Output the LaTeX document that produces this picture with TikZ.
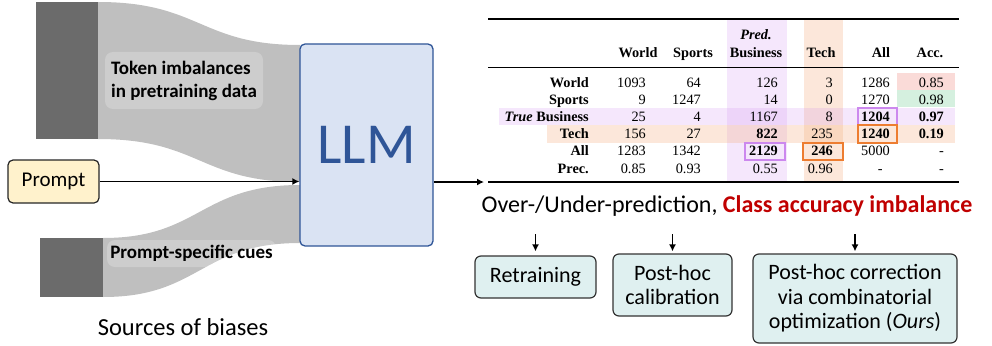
\documentclass[tikz,border=0pt]{standalone}
\usepackage{fontspec}
\setmainfont{Carlito}
\newfontfamily\tabfont{Liberation Serif}
\usepackage{tikz}
\usetikzlibrary{
	positioning,
	arrows.meta
}

\definecolor{flowgray}{HTML}{BFBFBF}
\definecolor{bargray}{HTML}{6B6B6B}
\definecolor{llmfill}{HTML}{DAE3F3}
\definecolor{llmblue}{HTML}{2F5597}
\definecolor{promptfill}{HTML}{FFF2CC}
\definecolor{fixfill}{HTML}{DFF0F0}
\definecolor{predpurple}{HTML}{CC88EE}
\definecolor{techorange}{HTML}{F4B183}
\definecolor{techline}{HTML}{ED7D31}
\definecolor{accred}{HTML}{C00000}
\definecolor{lowacc}{HTML}{FADBD8}
\definecolor{highacc}{HTML}{D5F0DF}

\tikzset{
	arr/.style={-{Latex[length=7pt,width=7pt]}, line width=1.4pt},
	fixbox/.style={draw=black!80, line width=1.2pt, rounded corners=6pt,
		fill=fixfill, align=center, inner sep=0pt,
		font=\fontsize{22}{24.5}\selectfont},
	srclab/.style={fill=white, fill opacity=0.22, text opacity=1,
		rounded corners=8pt, align=left, inner sep=0pt,
		font=\fontsize{19}{23}\selectfont\bfseries},
	num/.style={anchor=base east, inner sep=0pt,
		font=\tabfont\fontsize{14.3}{16}\selectfont},
	rowlab/.style={num, font=\tabfont\fontsize{14.3}{16}\selectfont\bfseries},
	colhead/.style={anchor=base, inner sep=0pt,
		font=\tabfont\fontsize{14.3}{16}\selectfont\bfseries}
}

\begin{document}
\begin{tikzpicture}[x=1pt,y=-1pt]
	\useasboundingbox (0,0) rectangle (992,345);

	% sources of biases
	\fill[flowgray] (98,2) .. controls (200,2) and (200,45) .. (300,45)
		-- (300,182) .. controls (200,182) and (200,139) .. (98,139) -- cycle;
	\fill[flowgray] (103,238) .. controls (200,238) and (200,185) .. (300,185)
		-- (300,243) .. controls (200,243) and (200,297) .. (103,297) -- cycle;
	\fill[bargray] (36,2) rectangle (98,139);
	\fill[bargray] (40,238) rectangle (103,297);

	\node[srclab, minimum width=158pt, minimum height=57pt] (tok) at (184,80.5)
		{Token imbalances\\in pretraining data};
	\node[srclab, minimum width=169pt, minimum height=27pt] (cue) at (191.5,253.5)
		{Prompt-specific cues};
	\node[font=\fontsize{24.5}{28}\selectfont, anchor=base] (srcs) at (183,335) {Sources of biases};

	\node[draw=black!85, line width=1.2pt, rounded corners=5pt, fill=promptfill,
		minimum width=91pt, minimum height=43pt, inner sep=0pt,
		font=\fontsize{21}{24}\selectfont] (prompt) at (53.5,181.5) {Prompt};
	\node[draw=llmblue, line width=1.3pt, rounded corners=5pt, fill=llmfill,
		minimum width=133pt, minimum height=202pt, text=llmblue,
		font=\fontsize{58}{60}\selectfont] (llm) at (366.5,145) {LLM};
	\coordinate (tabin) at (484,182);

	\draw[arr] (prompt.east) -- (llm.west |- prompt.east);
	\draw[arr] (llm.east |- tabin) -- (tabin);

	% confusion matrix
	\fill[predpurple, fill opacity=0.2] (727,20) rectangle (787,182);
	\fill[techorange, fill opacity=0.3] (804,20) rectangle (843,182);
	\fill[predpurple, fill opacity=0.2] (499,108) rectangle (955,125);
	\fill[techorange, fill opacity=0.3] (547,125) rectangle (955,143);
	\fill[lowacc] (897,73) rectangle (955,90);
	\fill[highacc] (897,90) rectangle (955,107);
	\draw[predpurple, line width=1.4pt] (858,108) rectangle (897,125)
		(745,143) rectangle (785,160);
	\draw[techline, line width=1.4pt] (858,125) rectangle (897,143)
		(803,143) rectangle (843,160);

	\draw[line width=1.4pt] (488,19) -- (959,19);
	\draw[line width=0.7pt] (488,67) -- (959,67);
	\draw[line width=1.4pt] (488,182) -- (959,182);

	\node[colhead] (hpred) at (756,40) {\itshape Pred.};
	\foreach \name/\x [count=\j] in {World/638,Sports/693,Business/756,Tech/821,All/881,Acc./930}
		\node[colhead] (h\j) at (\x,58) {\name};

	\foreach \lab/\cw/\cs/\cb/\ct/\call/\cacc [count=\i from 0] in {
		World/1093/64/126/3/1286/0.85,
		Sports/9/1247/14/0/1270/0.98,
		{\textit{True} Business}/25/4/1167/8/\textbf{1204}/\textbf{0.97},
		Tech/156/27/\textbf{822}/235/\textbf{1240}/\textbf{0.19},
		All/1283/1342/\textbf{2129}/\textbf{246}/5000/-,
		Prec./0.85/0.93/0.55/0.96/-\hphantom{0}/-}
	{
		\node[rowlab] (lab\i) at (589,87+17.2*\i) {\lab};
		\node[num] (w\i) at (646,87+17.2*\i) {\cw};
		\node[num] (s\i) at (701,87+17.2*\i) {\cs};
		\node[num] (b\i) at (778,87+17.2*\i) {\cb};
		\node[num] (t\i) at (833,87+17.2*\i) {\ct};
		\node[num] (a\i) at (890,87+17.2*\i) {\call};
		\node[num] (c\i) at (944,87+17.2*\i) {\cacc};
	}

	% effects and fixes
	\node[font=\fontsize{24}{28}\selectfont, anchor=base] (bias) at (727,212)
		{Over-/Under-prediction, \textcolor{accred}{\bfseries Class accuracy imbalance}};

	\node[fixbox, minimum width=121pt, minimum height=42pt] (retrain) at (535.5,277) {Retraining};
	\node[fixbox, minimum width=119pt, minimum height=62pt] (calib) at (672.5,285) {Post-hoc\\calibration};
	\node[fixbox, minimum width=204pt, minimum height=89pt] (ours) at (855,298.5)
		{Post-hoc correction\\via combinatorial\\optimization (\textit{Ours})};

	\draw[arr] ([yshift=21pt]retrain.north) -- ([yshift=4pt]retrain.north);
	\draw[arr] ([yshift=19pt]calib.north) -- ([yshift=2pt]calib.north);
	\draw[arr] ([yshift=19pt]ours.north) -- ([yshift=2pt]ours.north);
\end{tikzpicture}
\end{document}
